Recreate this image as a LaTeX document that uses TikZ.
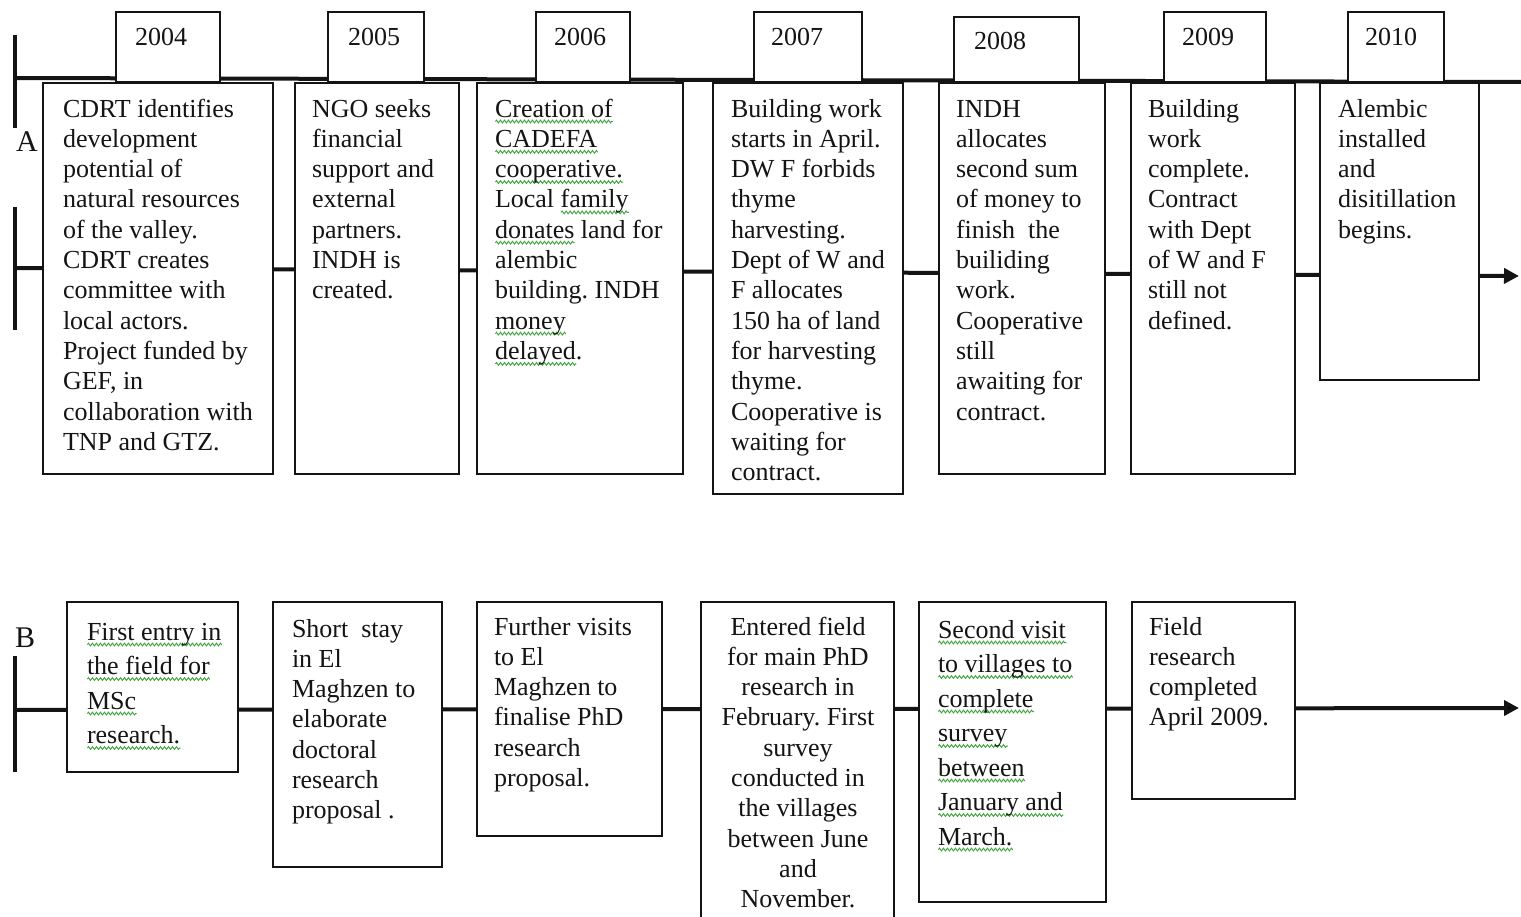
\documentclass[tikz,border=0pt]{standalone}
\usepackage{fontspec}
\setmainfont{Liberation Serif}
\usetikzlibrary{arrows.meta,decorations.pathmorphing}
\definecolor{spell}{RGB}{60,165,60}
\definecolor{ink}{RGB}{20,20,20}
\frenchspacing
\newsavebox\swbox
\newcommand\sw[1]{\sbox\swbox{#1}\rlap{\tikz[baseline=0pt]\draw[draw=spell,line width=0.9pt,decorate,decoration={zigzag,segment length=4pt,amplitude=1.4pt}] (0pt,-4.5pt) -- (\the\wd\swbox,-4.5pt);}\usebox\swbox}
\newcommand\tfont{\fontsize{26}{30.3}\selectfont}
\newcommand\tfontw{\fontsize{26}{34.5}\selectfont}
\tikzset{
  frame/.style={draw=ink, line width=1.8pt, fill=white, anchor=north west, inner sep=0pt, outer sep=0pt},
  txt/.style={anchor=north west, inner sep=0pt, outer sep=0pt, align=left, font=\tfont, text=ink},
  txtw/.style={txt, font=\tfontw},
  yeartxt/.style={anchor=base west, inner sep=0pt, font=\tfont, text=ink},
  tl/.style={draw=ink, line width=4pt},
  tlarrow/.style={tl, -{Triangle[length=15pt,width=15pt]}},
  letter/.style={anchor=base west, inner sep=0pt, font=\fontsize{30}{36}\selectfont, text=ink},
}
\begin{document}
\begin{tikzpicture}[x=1pt,y=-1pt]
\clip (0,0) rectangle (1521,917);
\fill[white] (0,0) rectangle (1521,917);
% ---------- timeline A ----------
\coordinate (v1) at (15,35);
\coordinate (v2) at (15,128);
\coordinate (v3) at (15,207);
\coordinate (v4) at (15,330);
\coordinate (tA1) at (15,78);
\coordinate (tA2) at (1521,82);
\coordinate (mA1) at (15,268);
\coordinate (mA2) at (1519,276);
\draw[tl] (v1) -- (v2);
\draw[tl] (v3) -- (v4);
\draw[tl] (tA1) -- (tA2);
\draw[tlarrow] (mA1) -- (mA2);
\node[letter] (labA) at (16,152) {A};
% year boxes
\node[frame, minimum width=104pt, minimum height=70pt] (y2004) at (116,12) {};
\node[frame, minimum width=96pt, minimum height=70pt] (y2005) at (328,12) {};
\node[frame, minimum width=94pt, minimum height=70pt] (y2006) at (536,12) {};
\node[frame, minimum width=108pt, minimum height=70pt] (y2007) at (754,12) {};
\node[frame, minimum width=125pt, minimum height=65pt] (y2008) at (954,17) {};
\node[frame, minimum width=102pt, minimum height=70pt] (y2009) at (1164,12) {};
\node[frame, minimum width=96pt, minimum height=70pt] (y2010) at (1348,12) {};
\node[yeartxt] (t2004) at (135,46) {2004};
\node[yeartxt] (t2005) at (348,46) {2005};
\node[yeartxt] (t2006) at (554,46) {2006};
\node[yeartxt] (t2007) at (771,46) {2007};
\node[yeartxt] (t2008) at (974,50) {2008};
\node[yeartxt] (t2009) at (1182,46) {2009};
\node[yeartxt] (t2010) at (1365,46) {2010};
% event boxes A
\node[frame, minimum width=230pt, minimum height=391pt] (a1) at (43,83) {};
\node[frame, minimum width=164pt, minimum height=391pt] (a2) at (295,83) {};
\node[frame, minimum width=206pt, minimum height=391pt] (a3) at (477,83) {};
\node[frame, minimum width=190pt, minimum height=411pt] (a4) at (713,83) {};
\node[frame, minimum width=166pt, minimum height=391pt] (a5) at (939,83) {};
\node[frame, minimum width=164pt, minimum height=391pt] (a6) at (1131,83) {};
\node[frame, minimum width=159pt, minimum height=297pt] (a7) at (1320,83) {};
\node[txt] (ta1) at (63,95.8) {\strut CDRT identifies\\development\\potential of\\natural resources\\of the valley.\\CDRT creates\\committee with\\local actors.\\Project funded by\\GEF, in\\collaboration with\\TNP and GTZ.};
\node[txt] (ta2) at (312,95.8) {\strut NGO seeks\\financial\\support and\\external\\partners.\\INDH is\\created.};
\node[txt] (ta3) at (495,95.8) {\strut\sw{Creation of}\\\sw{CADEFA}\\\sw{cooperative.}\\Local \sw{family}\\\sw{donates} land for\\alembic\\building. INDH\\\sw{money}\\\sw{delayed}.};
\node[txt] (ta4) at (731,95.8) {\strut Building work\\starts in April.\\DW F forbids\\thyme\\harvesting.\\Dept of W and\\F allocates\\150 ha of land\\for harvesting\\thyme.\\Cooperative is\\waiting for\\contract.};
\node[txt] (ta5) at (956,95.8) {\strut INDH\\allocates\\second sum\\of money to\\finish~ the\\builiding\\work.\\Cooperative\\still\\awaiting for\\contract.};
\node[txt] (ta6) at (1148,95.8) {\strut Building\\work\\complete.\\Contract\\with Dept\\of W and F\\still not\\defined.};
\node[txt] (ta7) at (1338,95.8) {\strut Alembic\\installed\\and\\disitillation\\begins.};
% ---------- timeline B ----------
\coordinate (vb1) at (15,656);
\coordinate (vb2) at (15,772);
\coordinate (mB1) at (15,710);
\coordinate (mB2) at (1519,708);
\draw[tl] (vb1) -- (vb2);
\draw[tlarrow] (mB1) -- (mB2);
\node[letter] (labB) at (15,647) {B};
\node[frame, minimum width=171pt, minimum height=170pt] (b1) at (67,602) {};
\node[frame, minimum width=169pt, minimum height=265pt] (b2) at (273,602) {};
\node[frame, minimum width=185pt, minimum height=234pt] (b3) at (477,602) {};
\node[frame, minimum width=193pt, minimum height=330pt] (b4) at (701,602) {};
\node[frame, minimum width=187pt, minimum height=300pt] (b5) at (919,602) {};
\node[frame, minimum width=163pt, minimum height=197pt] (b6) at (1132,602) {};
\node[txtw] (tb1) at (87,615.9) {\strut\sw{First entry in}\\\sw{the field for}\\\sw{MSc}\\\sw{research.}};
\node[txt] (tb2) at (292,615.8) {\strut Short~ stay\\in El\\Maghzen to\\elaborate\\doctoral\\research\\proposal .};
\node[txt] (tb3) at (494,613.8) {\strut Further visits\\to El\\Maghzen to\\finalise PhD\\research\\proposal.};
\node[txt, anchor=north, align=center] (tb4) at (798,613.8) {\strut Entered field\\for main PhD\\research in\\February. First\\survey\\conducted in\\the villages\\between June\\and\\November.};
\node[txtw] (tb5) at (938,613.9) {\strut\sw{Second visit}\\\sw{to villages to}\\\sw{complete}\\\sw{survey}\\\sw{between}\\\sw{January and}\\\sw{March.}};
\node[txt] (tb6) at (1149,613.8) {\strut Field\\research\\completed\\April 2009.};
\end{tikzpicture}
\end{document}
